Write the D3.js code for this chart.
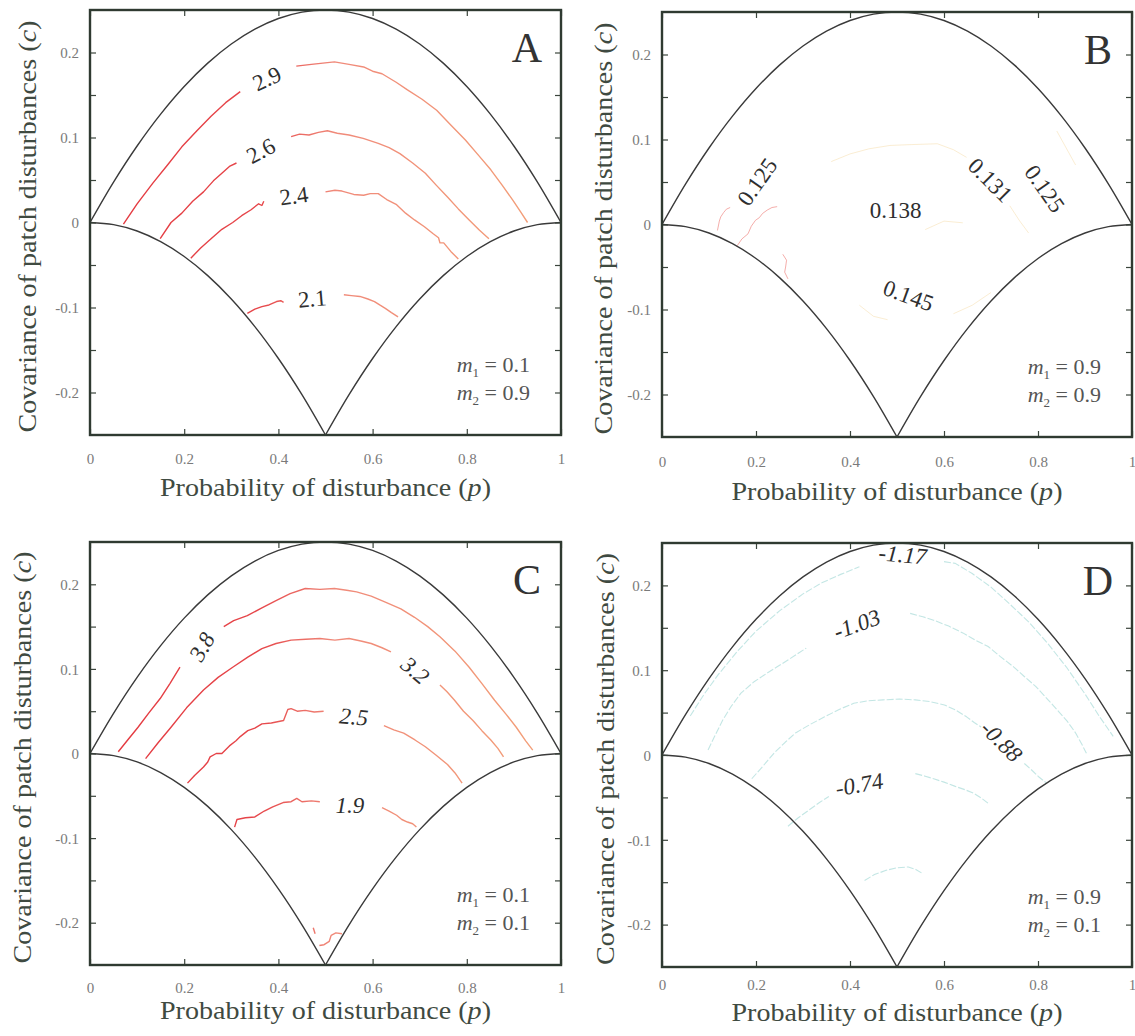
<!DOCTYPE html>
<html>
<head>
<meta charset="utf-8">
<script src="https://cdn.jsdelivr.net/npm/d3@7"></script>
<style>
  html, body { margin: 0; padding: 0; background: #ffffff; }
  svg { display: block; }
  text { font-family: "Liberation Serif", "DejaVu Serif", serif; }
</style>
</head>
<body>
<svg id="chart" width="1135" height="1036"></svg>
<script>
// ---------- axis ticks ----------
const pTicks = [0, 0.2, 0.4, 0.6, 0.8, 1];
const pTickLabels = ["0", "0.2", "0.4", "0.6", "0.8", "1"];
const cMinorTicks = [-0.2, -0.15, -0.1, -0.05, 0, 0.05, 0.1, 0.15, 0.2];
const cTicks = [-0.2, -0.1, 0, 0.1, 0.2];
const cTickLabels = ["-0.2", "-0.1", "0", "0.1", "0.2"];

// ---------- feasible-region boundaries (p, c) ----------
const upperBound = [
  [0, 0], [0.05, 0.0475], [0.1, 0.09], [0.15, 0.1275], [0.2, 0.16], [0.25, 0.1875],
  [0.3, 0.21], [0.35, 0.2275], [0.4, 0.24], [0.45, 0.2475], [0.5, 0.25],
  [0.55, 0.2475], [0.6, 0.24], [0.65, 0.2275], [0.7, 0.21], [0.75, 0.1875],
  [0.8, 0.16], [0.85, 0.1275], [0.9, 0.09], [0.95, 0.0475], [1, 0]
];
const lowerBoundLeft = [
  [0, 0], [0.05, -0.0025], [0.1, -0.01], [0.15, -0.0225], [0.2, -0.04], [0.25, -0.0625],
  [0.3, -0.09], [0.35, -0.1225], [0.4, -0.16], [0.45, -0.2025], [0.5, -0.25]
];
const lowerBoundRight = [
  [0.5, -0.25], [0.55, -0.2025], [0.6, -0.16], [0.65, -0.1225], [0.7, -0.09],
  [0.75, -0.0625], [0.8, -0.04], [0.85, -0.0225], [0.9, -0.01], [0.95, -0.0025], [1, 0]
];

// ---------- panel A : m1 = 0.1, m2 = 0.9 ----------
const paramsA = ["0.1", "0.9"];
const contoursA = [
  [[0.071,-0.002],[0.10,0.022],[0.133,0.046],[0.165,0.068],[0.195,0.089],[0.227,0.108],[0.257,0.125],[0.288,0.141],[0.319,0.154]],
  [[0.438,0.184],[0.47,0.186],[0.519,0.189],[0.55,0.186],[0.581,0.183],[0.60,0.178],[0.62,0.175],[0.65,0.165],[0.674,0.156],[0.705,0.145],[0.736,0.132],[0.767,0.114],[0.797,0.097],[0.825,0.079],[0.851,0.062],[0.875,0.044],[0.898,0.026],[0.915,0.012],[0.929,0.000]],
  [[0.149,-0.019],[0.172,0.000],[0.195,0.011],[0.218,0.025],[0.241,0.036],[0.262,0.049],[0.280,0.058],[0.296,0.066],[0.311,0.070]],
  [[0.427,0.101],[0.445,0.104],[0.465,0.103],[0.485,0.106],[0.504,0.108],[0.525,0.105],[0.550,0.103],[0.580,0.099],[0.612,0.093],[0.635,0.088],[0.658,0.081],[0.685,0.070],[0.712,0.058],[0.735,0.044],[0.759,0.030],[0.782,0.016],[0.805,0.003],[0.827,-0.009],[0.847,-0.019]],
  [[0.214,-0.042],[0.235,-0.030],[0.257,-0.019],[0.280,-0.008],[0.303,0.000],[0.322,0.008],[0.342,0.015],[0.358,0.022],[0.365,0.020],[0.369,0.025]],
  [[0.500,0.036],[0.520,0.038],[0.535,0.037],[0.560,0.033],[0.581,0.032],[0.595,0.034],[0.612,0.034],[0.630,0.027],[0.651,0.021],[0.670,0.011],[0.689,0.003],[0.710,-0.005],[0.728,-0.013],[0.740,-0.018],[0.743,-0.024],[0.751,-0.024],[0.766,-0.034],[0.782,-0.043]],
  [[0.334,-0.107],[0.350,-0.102],[0.365,-0.099],[0.380,-0.097],[0.396,-0.093],[0.405,-0.092],[0.411,-0.094]],
  [[0.539,-0.085],[0.555,-0.086],[0.573,-0.087],[0.590,-0.090],[0.604,-0.093],[0.615,-0.097],[0.627,-0.101],[0.640,-0.106],[0.654,-0.111]]
];
const labelsA = [
  { text: "2.9", p: 0.376, c: 0.169 },
  { text: "2.6", p: 0.363, c: 0.084 },
  { text: "2.4", p: 0.433, c: 0.031 },
  { text: "2.1", p: 0.472, c: -0.090 }
];

// ---------- panel B : m1 = 0.9, m2 = 0.9 ----------
const paramsB = ["0.9", "0.9"];
const contoursBRed = [
  [[0.118,-0.007],[0.122,0.004],[0.125,0.009],[0.131,0.014],[0.137,0.018],[0.145,0.020]],
  [[0.160,-0.025],[0.170,-0.017],[0.183,-0.011],[0.190,-0.002],[0.199,0.005],[0.207,0.008],[0.214,0.013],[0.224,0.017],[0.234,0.020],[0.245,0.021]],
  [[0.257,-0.035],[0.265,-0.042],[0.263,-0.050],[0.261,-0.056],[0.268,-0.064]]
];
const contoursBFaint = [
  [[0.36,0.074],[0.40,0.083],[0.44,0.089],[0.485,0.093],[0.53,0.094],[0.586,0.095],[0.62,0.088],[0.648,0.079]],
  [[0.74,0.022],[0.76,0.005],[0.78,-0.010]],
  [[0.84,0.110],[0.86,0.090],[0.88,0.070]],
  [[0.42,-0.095],[0.45,-0.108],[0.48,-0.112]],
  [[0.62,-0.105],[0.66,-0.095],[0.70,-0.080]],
  [[0.56,-0.006],[0.60,0.004],[0.64,0.002]]
];
const labelsB = [
  { text: "0.125", p: 0.203, c: 0.050 },
  { text: "0.138", p: 0.497, c: 0.016 },
  { text: "0.131", p: 0.698, c: 0.052 },
  { text: "0.125", p: 0.814, c: 0.042 },
  { text: "0.145", p: 0.524, c: -0.084 }
];

// ---------- panel C : m1 = 0.1, m2 = 0.1 ----------
const paramsC = ["0.1", "0.1"];
const contoursC = [
  [[0.060,0.002],[0.080,0.016],[0.102,0.031],[0.125,0.048],[0.149,0.065],[0.170,0.083],[0.191,0.102]],
  [[0.284,0.150],[0.305,0.157],[0.334,0.163],[0.365,0.172],[0.396,0.181],[0.425,0.189],[0.457,0.195],[0.488,0.194],[0.519,0.195],[0.545,0.193],[0.566,0.191],[0.597,0.186],[0.627,0.179],[0.660,0.171],[0.689,0.161],[0.717,0.150],[0.743,0.138],[0.775,0.121],[0.805,0.102],[0.833,0.082],[0.859,0.063],[0.884,0.046],[0.905,0.031],[0.925,0.015],[0.940,0.004]],
  [[0.118,-0.006],[0.145,0.013],[0.172,0.031],[0.205,0.054],[0.241,0.075],[0.272,0.090],[0.303,0.102],[0.335,0.114],[0.365,0.124],[0.395,0.130],[0.427,0.134],[0.458,0.135],[0.488,0.136],[0.520,0.134],[0.550,0.136],[0.575,0.133],[0.597,0.130],[0.620,0.125],[0.639,0.120]],
  [[0.743,0.081],[0.758,0.073],[0.774,0.063],[0.793,0.050],[0.813,0.039],[0.832,0.027],[0.851,0.016],[0.866,0.006],[0.878,-0.004]],
  [[0.207,-0.035],[0.222,-0.026],[0.241,-0.016],[0.250,-0.010],[0.255,-0.004],[0.268,0.000],[0.280,0.000],[0.296,0.009],[0.310,0.015],[0.319,0.020],[0.335,0.027],[0.350,0.030],[0.365,0.035],[0.385,0.036],[0.411,0.039],[0.420,0.052],[0.427,0.053],[0.440,0.050],[0.457,0.051],[0.476,0.049],[0.496,0.050]],
  [[0.624,0.033],[0.645,0.028],[0.666,0.024],[0.690,0.016],[0.712,0.008],[0.735,-0.002],[0.759,-0.013],[0.775,-0.023],[0.790,-0.035]],
  [[0.307,-0.087],[0.312,-0.078],[0.330,-0.076],[0.350,-0.075],[0.370,-0.068],[0.388,-0.063],[0.410,-0.058],[0.427,-0.057],[0.439,-0.053],[0.450,-0.057],[0.470,-0.056],[0.488,-0.057]],
  [[0.620,-0.064],[0.635,-0.068],[0.651,-0.073],[0.662,-0.078],[0.674,-0.081],[0.685,-0.083],[0.693,-0.087]],
  [[0.474,-0.206],[0.478,-0.213]],
  [[0.487,-0.227],[0.497,-0.226],[0.508,-0.222],[0.512,-0.215],[0.522,-0.212],[0.535,-0.213]]
];
const labelsC = [
  { text: "3.8", p: 0.238, c: 0.126 },
  { text: "3.2", p: 0.690, c: 0.098 },
  { text: "2.5", p: 0.560, c: 0.043 },
  { text: "1.9", p: 0.552, c: -0.061 }
];

// ---------- panel D : m1 = 0.9, m2 = 0.1 ----------
const paramsD = ["0.9", "0.1"];
const contoursD = [
  [[0.06,0.046],[0.09,0.072],[0.12,0.095],[0.16,0.122],[0.20,0.146],[0.25,0.170],[0.30,0.190],[0.34,0.203],[0.38,0.213],[0.42,0.222]],
  [[0.60,0.228],[0.624,0.226],[0.66,0.214],[0.70,0.198],[0.74,0.178],[0.78,0.157],[0.82,0.132],[0.86,0.104],[0.90,0.072],[0.93,0.046],[0.96,0.022]],
  [[0.098,0.006],[0.112,0.022],[0.129,0.041],[0.148,0.058],[0.168,0.073],[0.195,0.086],[0.222,0.096],[0.245,0.104],[0.268,0.112],[0.290,0.120],[0.307,0.126]],
  [[0.528,0.167],[0.555,0.163],[0.578,0.159],[0.610,0.152],[0.640,0.144],[0.668,0.135],[0.694,0.128],[0.720,0.116],[0.748,0.104],[0.772,0.092],[0.795,0.081],[0.820,0.066],[0.841,0.053],[0.862,0.040],[0.880,0.026],[0.893,0.013],[0.903,0.002]],
  [[0.191,-0.028],[0.215,-0.013],[0.238,0.002],[0.262,0.015],[0.284,0.026],[0.315,0.036],[0.346,0.045],[0.378,0.054],[0.408,0.061],[0.440,0.064],[0.470,0.065],[0.505,0.066],[0.539,0.065],[0.570,0.063],[0.601,0.059],[0.625,0.053],[0.648,0.045],[0.665,0.038],[0.679,0.033]],
  [[0.771,-0.010],[0.787,-0.018],[0.802,-0.026],[0.818,-0.033]],
  [[0.268,-0.084],[0.290,-0.074],[0.315,-0.064],[0.335,-0.056],[0.355,-0.049]],
  [[0.539,-0.022],[0.560,-0.025],[0.578,-0.028],[0.600,-0.032],[0.624,-0.037],[0.645,-0.041],[0.663,-0.045],[0.680,-0.051],[0.694,-0.057]],
  [[0.431,-0.148],[0.452,-0.141],[0.477,-0.136],[0.500,-0.133],[0.524,-0.132],[0.540,-0.135],[0.555,-0.140]]
];
const labelsD = [
  { text: "-1.17", p: 0.512, c: 0.236 },
  { text: "-1.03", p: 0.415, c: 0.154 },
  { text: "-0.88", p: 0.722, c: 0.016 },
  { text: "-0.74", p: 0.420, c: -0.035 }
];

// ---------- layout and styling ----------
const panels = [
  { letter: "A", x0: 90,  x1: 561,  y0: 10,  y1: 435, tickY: 464, titleY: 496, yTitleX: 27,
    params: paramsA, lines: [{ data: contoursA, stroke: "grad", width: 1.4, opacity: 1 }],
    labels: labelsA, angles: [-25, -28, -8, -5], italic: false },
  { letter: "B", x0: 662, x1: 1132, y0: 12,  y1: 437, tickY: 467, titleY: 500, yTitleX: 603,
    params: paramsB, lines: [
      { data: contoursBFaint, stroke: "#f6dfae", width: 1.0, opacity: 0.55 },
      { data: contoursBRed, stroke: "#f08a86", width: 1.0, opacity: 0.7 }],
    labels: labelsB, angles: [-55, 0, 45, 55, 20], italic: false },
  { letter: "C", x0: 90,  x1: 561,  y0: 542, y1: 965, tickY: 993, titleY: 1019, yTitleX: 22,
    params: paramsC, lines: [{ data: contoursC, stroke: "grad", width: 1.4, opacity: 1 }],
    labels: labelsC, angles: [-60, 40, 5, 0], italic: true },
  { letter: "D", x0: 662, x1: 1132, y0: 543, y1: 967, tickY: 990, titleY: 1021, yTitleX: 605,
    params: paramsD, lines: [{ data: contoursD, stroke: "#a9dcd8", width: 1.1, opacity: 0.7, dash: "7 2" }],
    labels: labelsD, angles: [5, -20, 45, -10], italic: true }
];

const svg = d3.select("#chart");
const defs = svg.append("defs");

panels.forEach((P, idx) => {
  const x = d3.scaleLinear().domain([0, 1]).range([P.x0, P.x1]);
  const y = d3.scaleLinear().domain([-0.25, 0.25]).range([P.y1, P.y0]);
  const g = svg.append("g");

  // red-to-salmon gradient used by the contours of the red panels
  const gradId = "contourGrad" + idx;
  const grad = defs.append("linearGradient").attr("id", gradId)
    .attr("gradientUnits", "userSpaceOnUse")
    .attr("x1", P.x0).attr("x2", P.x1).attr("y1", 0).attr("y2", 0);
  grad.append("stop").attr("offset", "0%").attr("stop-color", "#e3383f");
  grad.append("stop").attr("offset", "36%").attr("stop-color", "#e6464a");
  grad.append("stop").attr("offset", "52%").attr("stop-color", "#f08a7a");
  grad.append("stop").attr("offset", "100%").attr("stop-color", "#f3a178");

  const line = d3.line().x(d => x(d[0])).y(d => y(d[1]));
  const smooth = d3.line().x(d => x(d[0])).y(d => y(d[1])).curve(d3.curveCatmullRom);

  // contour lines
  P.lines.forEach(L => {
    g.append("g").selectAll("path").data(L.data).join("path")
      .attr("d", line)
      .attr("fill", "none")
      .attr("stroke", L.stroke === "grad" ? `url(#${gradId})` : L.stroke)
      .attr("stroke-width", L.width)
      .attr("stroke-opacity", L.opacity)
      .attr("stroke-dasharray", L.dash || null)
      .attr("stroke-linejoin", "round");
  });

  // feasible-region boundaries
  [upperBound, lowerBoundLeft, lowerBoundRight].forEach(b => {
    g.append("path").attr("d", smooth(b))
      .attr("fill", "none").attr("stroke", "#3a3a3a").attr("stroke-width", 1.4);
  });

  // contour labels
  g.append("g").selectAll("text").data(P.labels).join("text")
    .attr("transform", (d, i) => `translate(${x(d.p)},${y(d.c)}) rotate(${P.angles[i]})`)
    .attr("text-anchor", "middle")
    .attr("dominant-baseline", "central")
    .attr("font-size", 23)
    .attr("font-style", P.italic ? "italic" : "normal")
    .attr("fill", "#2e2e2e")
    .text(d => d.text);

  // axes: inward ticks on all four sides
  const fmtP = v => pTickLabels[pTicks.indexOf(v)];
  const fmtC = v => { const i = cTicks.findIndex(t => Math.abs(t - v) < 1e-9); return i < 0 ? "" : cTickLabels[i]; };

  const bottom = g.append("g").attr("transform", `translate(0,${P.y1})`)
    .call(d3.axisBottom(x).tickValues(pTicks).tickSizeInner(-6).tickSizeOuter(0).tickPadding(0).tickFormat(fmtP));
  const top = g.append("g").attr("transform", `translate(0,${P.y0})`)
    .call(d3.axisTop(x).tickValues(pTicks).tickSizeInner(-6).tickSizeOuter(0).tickFormat(""));
  const left = g.append("g").attr("transform", `translate(${P.x0},0)`)
    .call(d3.axisLeft(y).tickValues(cMinorTicks).tickSizeInner(-6).tickSizeOuter(0).tickPadding(11).tickFormat(fmtC));
  const right = g.append("g").attr("transform", `translate(${P.x1},0)`)
    .call(d3.axisRight(y).tickValues(cMinorTicks).tickSizeInner(-6).tickSizeOuter(0).tickFormat(""));

  [bottom, top, left, right].forEach(a => {
    a.select(".domain").remove();
    a.selectAll(".tick line").attr("stroke", "#3b453c").attr("stroke-width", 1.2);
    a.selectAll(".tick text")
      .attr("font-family", "'Liberation Serif', serif")
      .attr("font-size", 15).attr("fill", "#7a7a7a");
  });
  bottom.selectAll(".tick text").attr("y", P.tickY - P.y1).attr("dy", 0);
  left.selectAll(".tick text").attr("dy", "0.35em");

  // frame
  g.append("rect")
    .attr("x", P.x0).attr("y", P.y0)
    .attr("width", P.x1 - P.x0).attr("height", P.y1 - P.y0)
    .attr("fill", "none").attr("stroke", "#2f3a31").attr("stroke-width", 2.4);

  // panel letter
  g.append("text")
    .attr("x", P.x1 - 34).attr("y", P.y0 + 52)
    .attr("text-anchor", "middle")
    .attr("font-size", 42).attr("fill", "#333")
    .text(P.letter);

  // migration parameters
  P.params.forEach((v, i) => {
    const t = g.append("text")
      .attr("x", P.x1 - 31).attr("y", P.y1 - 63 + i * 28)
      .attr("text-anchor", "end")
      .attr("font-size", 22).attr("fill", "#555");
    t.append("tspan").attr("font-style", "italic").text("m");
    t.append("tspan").attr("font-size", 13).attr("dy", 5).text(String(i + 1));
    t.append("tspan").attr("dy", -5).text(" = " + v);
  });

  // axis titles
  const xt = g.append("text")
    .attr("x", (P.x0 + P.x1) / 2).attr("y", P.titleY)
    .attr("text-anchor", "middle")
    .attr("font-size", 25).attr("fill", "#3f4a41")
    .attr("textLength", 331).attr("lengthAdjust", "spacingAndGlyphs");
  xt.append("tspan").text("Probability of disturbance (");
  xt.append("tspan").attr("font-style", "italic").text("p");
  xt.append("tspan").text(")");

  const yt = g.append("text")
    .attr("transform", `translate(${P.yTitleX},${(P.y0 + P.y1) / 2 + 4}) rotate(-90)`)
    .attr("text-anchor", "middle")
    .attr("dominant-baseline", "central")
    .attr("font-size", 25).attr("fill", "#3f4a41")
    .attr("textLength", 412).attr("lengthAdjust", "spacingAndGlyphs");
  yt.append("tspan").text("Covariance of patch disturbances (");
  yt.append("tspan").attr("font-style", "italic").text("c");
  yt.append("tspan").text(")");
});
</script>
</body>
</html>
